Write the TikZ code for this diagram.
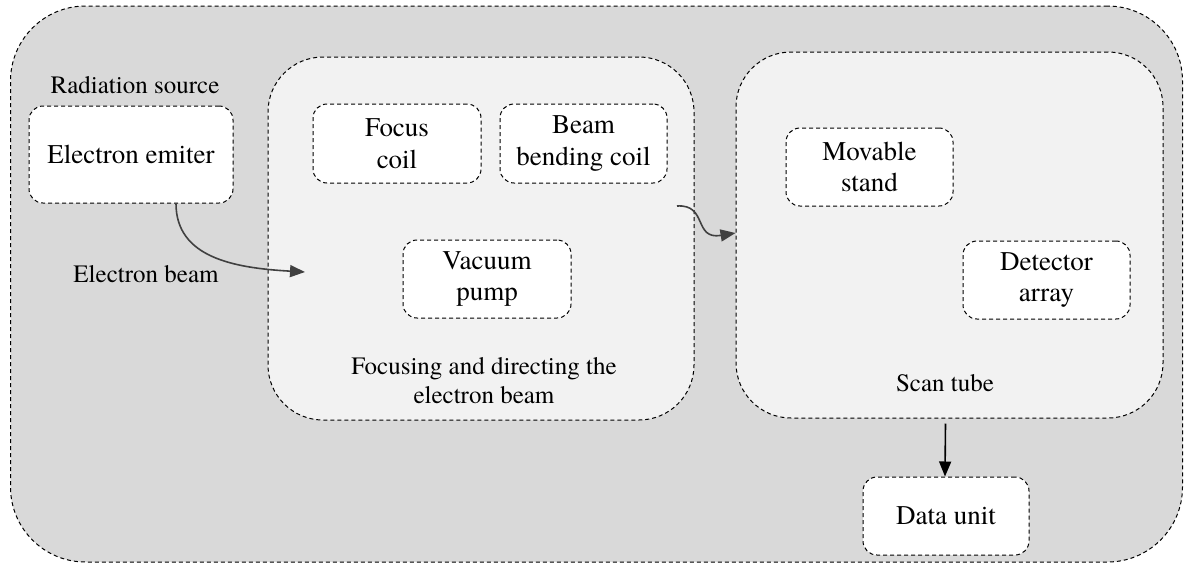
\documentclass[tikz,border=0pt]{standalone}
\usepackage{fontspec}
\setmainfont{texgyretermes}[Extension=.otf, UprightFont=*-regular]
\usetikzlibrary{arrows.meta}
\definecolor{outerfill}{HTML}{D9D9D9}
\definecolor{innerfill}{HTML}{F2F2F2}
\definecolor{arrowgray}{HTML}{404040}
\tikzset{
  dashline/.style={draw=black, line width=1pt, dash pattern=on 4pt off 3pt},
  container/.style={dashline, fill=innerfill, rounded corners=55pt, inner sep=0pt},
  unitbox/.style={dashline, fill=white, rounded corners=14pt, inner sep=0pt,
    align=center, font=\fontsize{27}{31.5}\selectfont},
  label/.style={inner sep=0pt, anchor=base, align=center, font=\fontsize{25}{29}\selectfont},
  grayarrow/.style={draw=arrowgray, line width=1.6pt, -{Triangle[length=15pt,width=12pt]}},
  blackarrow/.style={draw=black, line width=1.6pt, -{Triangle[length=15pt,width=12pt]}}
}
\begin{document}
\begin{tikzpicture}[x=1pt, y=-1pt]
\useasboundingbox (0,0) rectangle (1184,563);
% outer system
\node[dashline, fill=outerfill, rounded corners=75pt, inner sep=0pt,
  minimum width=1172pt, minimum height=556pt] (outer) at (596.5,284) {};
% containers
\node[container, minimum width=426pt, minimum height=363pt] (focusing) at (481,238.5) {};
\node[container, minimum width=427pt, minimum height=366pt] (scantube) at (949.5,235) {};
% labels
\node[label] (radlbl) at (135,93) {Radiation source};
\node[label] (beamlbl) at (146,282) {Electron beam};
\node[label] (foclbl) at (484,403) {Focusing and directing the\\[0pt]electron beam};
\node[label] (scanlbl) at (945,391) {Scan tube};
% unit boxes
\node[unitbox, minimum width=204pt, minimum height=97pt] (emitter) at (131,154.5) {Electron emiter};
\node[unitbox, minimum width=168pt, minimum height=79pt] (fcoil) at (397,143.5) {Focus\\coil};
\node[unitbox, minimum width=167pt, minimum height=79pt] (bcoil) at (583.5,143.5) {Beam\\bending coil};
\node[unitbox, minimum width=168pt, minimum height=78pt] (vpump) at (487,279) {Vacuum\\pump};
\node[unitbox, minimum width=167pt, minimum height=78pt] (mstand) at (869.5,167) {Movable\\stand};
\node[unitbox, minimum width=167pt, minimum height=78pt] (darray) at (1046.5,280) {Detector\\array};
\node[unitbox, minimum width=166pt, minimum height=78pt] (dunit) at (946,516) {Data unit};
% connectors
\coordinate (beamend) at (305,272);
\coordinate (bendstart) at (677,206);
\draw[grayarrow] ([xshift=45pt]emitter.south) .. controls (176,258) and (235,268) .. (beamend);
\draw[grayarrow] (bendstart) .. controls (708,204) and (693,240) .. ([yshift=2pt]scantube.west);
\draw[blackarrow] ([yshift=-5pt,xshift=-4pt]scantube.south) -- ([xshift=-1pt]dunit.north);
\end{tikzpicture}
\end{document}
